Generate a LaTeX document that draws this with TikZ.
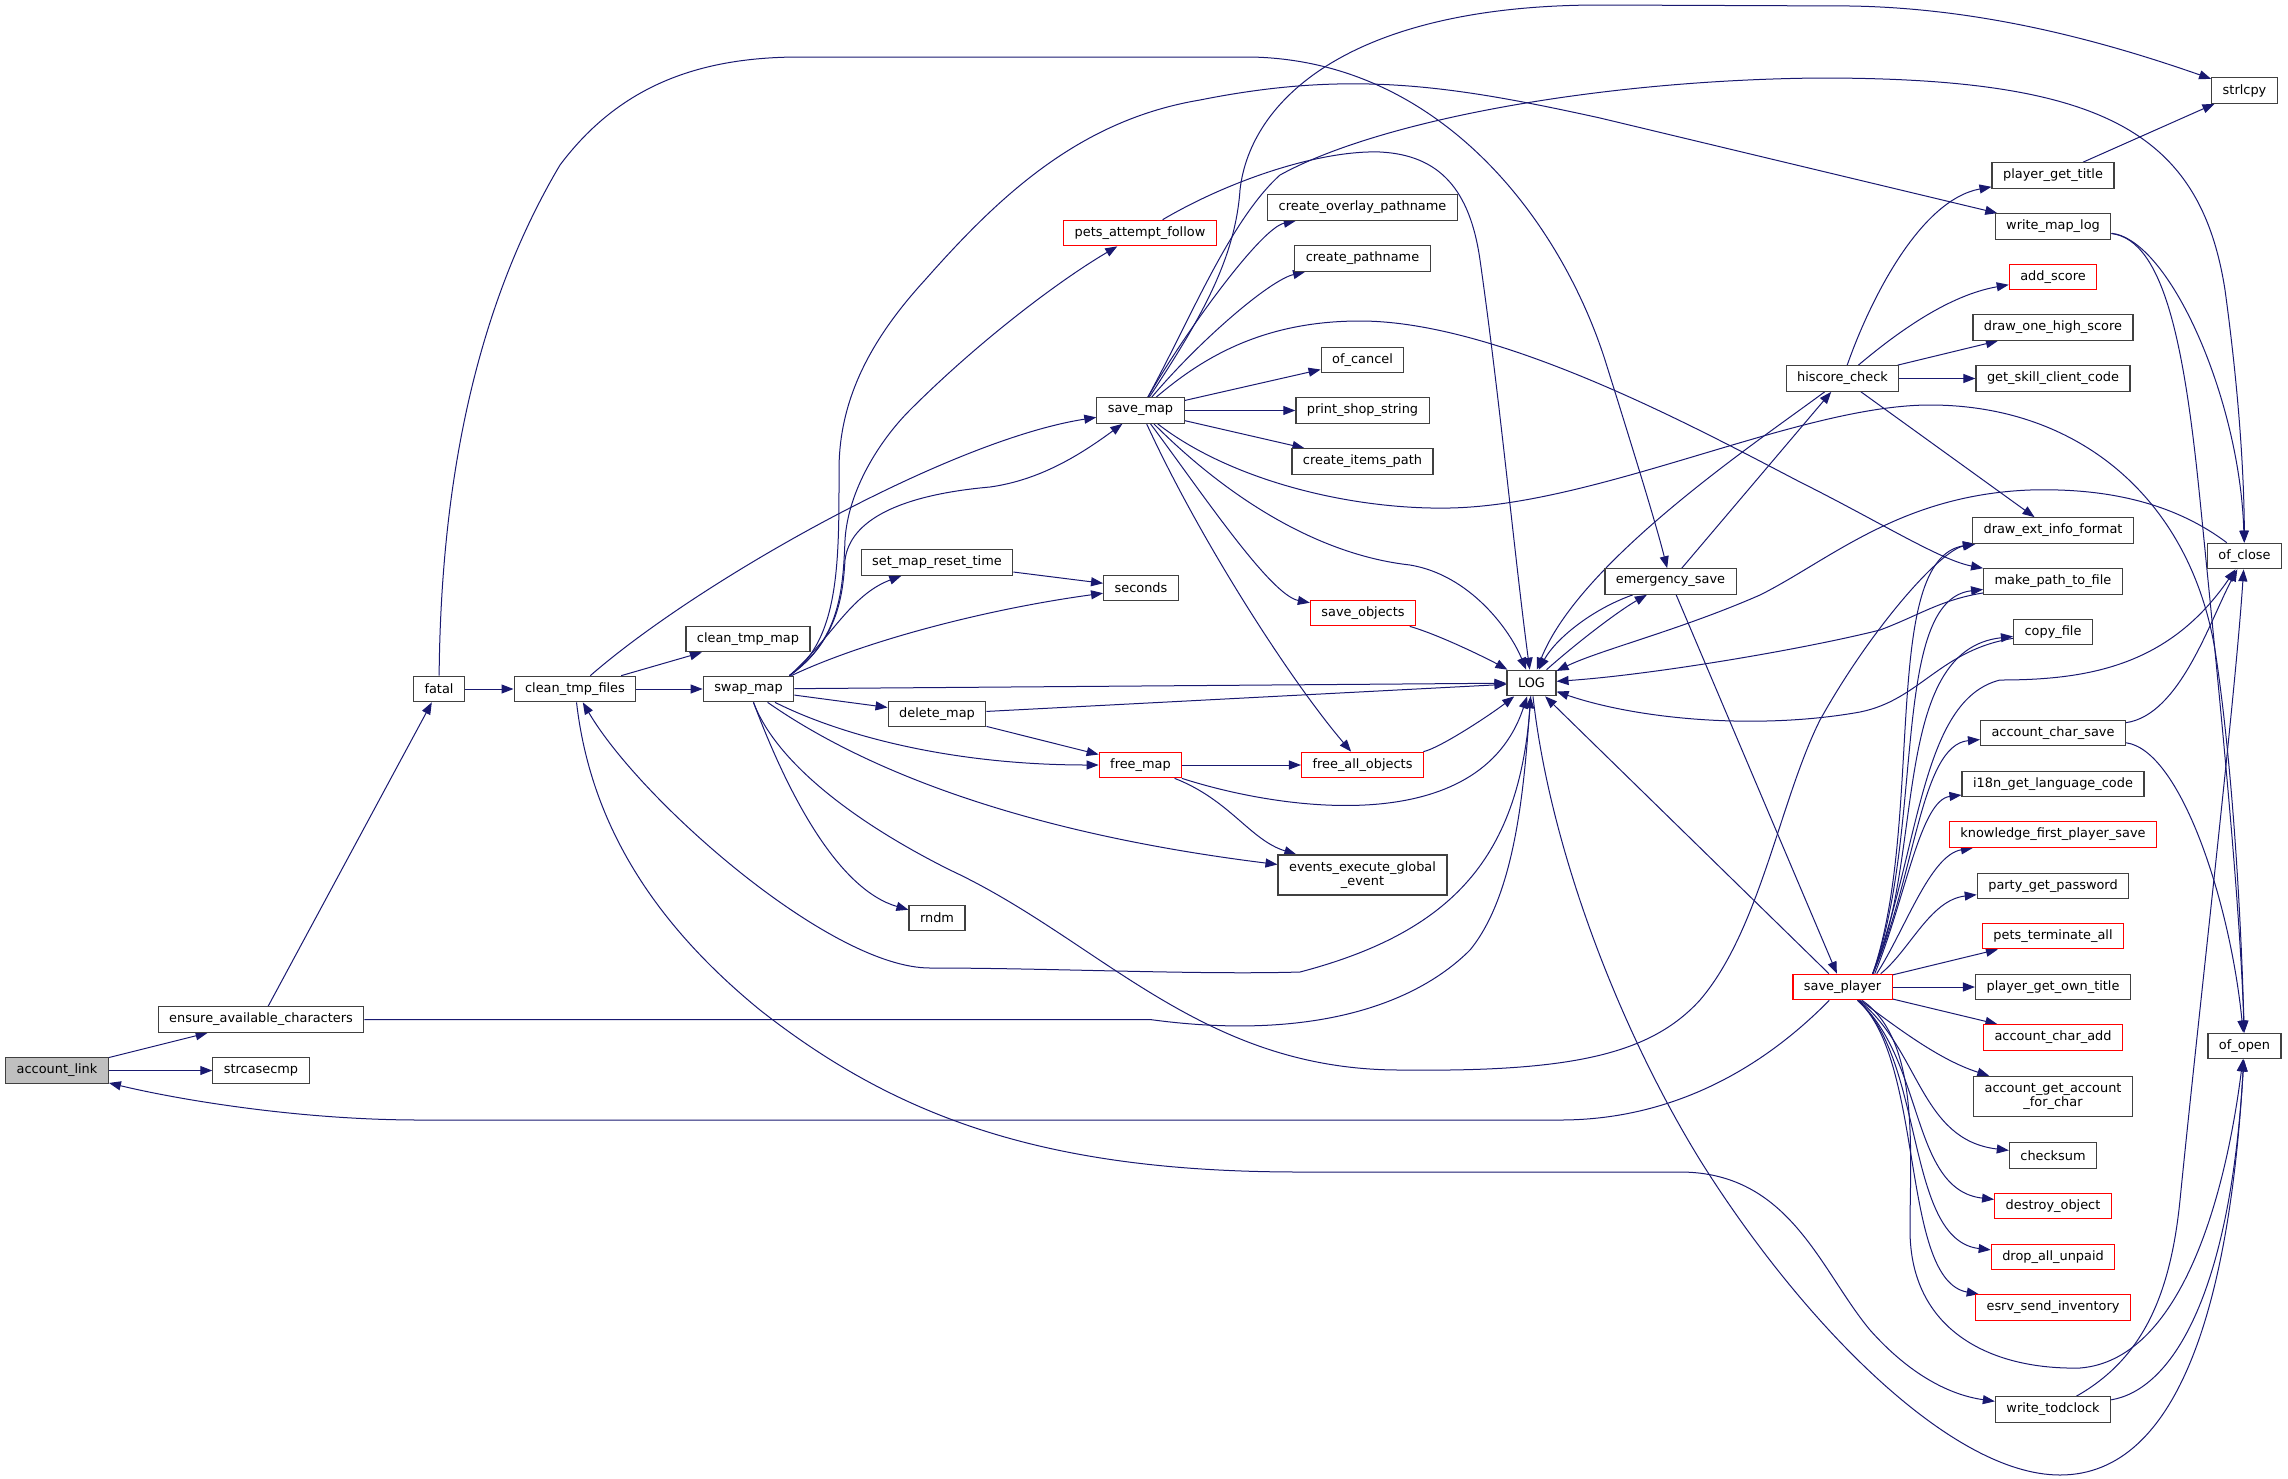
\documentclass[tikz,border=0pt]{standalone}
\usepackage{fontspec}
\setmainfont{DejaVu Sans}
\usetikzlibrary{arrows.meta}
\definecolor{edgeblue}{HTML}{191970}
\definecolor{rootgray}{HTML}{BFBFBF}
\newcommand{\fnfont}{\fontsize{12.9}{14.2}\selectfont}
\pgfdeclarelayer{background}
\pgfsetlayers{background,main}

\begin{document}
\begin{tikzpicture}[x=1pt, y=-1pt,
    fnbox/.style={draw=black!75, line width=1.2pt, fill=white, inner xsep=11pt, inner ysep=0pt, minimum height=25.5pt, font=\fnfont},
    twoline/.style={fnbox, align=center, minimum height=40pt},
    trunc/.style={fnbox, draw=red},
    root/.style={fnbox, fill=rootgray},
    call/.style={draw=edgeblue, line width=1pt, -{Triangle[length=12pt, width=9pt]}}]
\useasboundingbox (0,0) rectangle (2288,1478);

% functions
\node[root] at (57, 1070.5) (al) {account\_link};
\node[fnbox] at (261, 1019.5) (eac) {ensure\_available\_characters};
\node[fnbox] at (261, 1070.5) (scmp) {strcasecmp};
\node[fnbox] at (439, 689) (fatal) {fatal};
\node[fnbox] at (575, 689) (ctf) {clean\_tmp\_files};
\node[fnbox] at (748, 639) (ctm) {clean\_tmp\_map};
\node[fnbox] at (748.5, 689) (swap) {swap\_map};
\node[trunc] at (1140, 233) (paf) {pets\_attempt\_follow};
\node[fnbox] at (1140.5, 410.5) (savemap) {save\_map};
\node[fnbox] at (937, 562.5) (smrt) {set\_map\_reset\_time};
\node[fnbox] at (1141, 588) (sec) {seconds};
\node[fnbox] at (937, 714) (delmap) {delete\_map};
\node[fnbox] at (937, 918) (rndm) {rndm};
\node[trunc] at (1140.5, 765) (freemap) {free\_map};
\node[fnbox] at (1362.5, 207.5) (cop) {create\_overlay\_pathname};
\node[fnbox] at (1362.5, 258.5) (cp) {create\_pathname};
\node[fnbox] at (1362.5, 360) (ofc) {of\_cancel};
\node[fnbox] at (1362.5, 410.5) (pss) {print\_shop\_string};
\node[fnbox] at (1362.5, 461.5) (cip) {create\_items\_path};
\node[trunc] at (1363, 613) (saveobj) {save\_objects};
\node[trunc] at (1362.5, 765) (fao) {free\_all\_objects};
\node[twoline] at (1362.5, 875) (eeg) {events\_execute\_global\\\_event};
\node[fnbox] at (1531.5, 683) (log) {LOG};
\node[fnbox] at (1670.5, 581.5) (es) {emergency\_save};
\node[fnbox] at (1842.5, 378.5) (hs) {hiscore\_check};
\node[trunc] at (1842.5, 987) (sp) {save\_player};
\node[fnbox] at (2053, 175.5) (pgt) {player\_get\_title};
\node[fnbox] at (2053, 226.5) (wml) {write\_map\_log};
\node[trunc] at (2053, 277) (as) {add\_score};
\node[fnbox] at (2053, 327.5) (dohs) {draw\_one\_high\_score};
\node[fnbox] at (2053, 378.5) (gscc) {get\_skill\_client\_code};
\node[fnbox] at (2053, 530.5) (deif) {draw\_ext\_info\_format};
\node[fnbox] at (2053, 581.5) (mptf) {make\_path\_to\_file};
\node[fnbox] at (2053, 632) (cf) {copy\_file};
\node[fnbox] at (2053, 733) (acs) {account\_char\_save};
\node[fnbox] at (2053, 784) (i18n) {i18n\_get\_language\_code};
\node[trunc] at (2053, 834.5) (kfps) {knowledge\_first\_player\_save};
\node[fnbox] at (2053, 886) (pgp) {party\_get\_password};
\node[trunc] at (2053, 936) (pta) {pets\_terminate\_all};
\node[fnbox] at (2053, 987) (pgot) {player\_get\_own\_title};
\node[trunc] at (2053, 1037.5) (aca) {account\_char\_add};
\node[twoline] at (2053, 1096.5) (agafc) {account\_get\_account\\\_for\_char};
\node[fnbox] at (2053, 1155.5) (cks) {checksum};
\node[trunc] at (2053, 1206) (dobj) {destroy\_object};
\node[trunc] at (2053, 1257) (dau) {drop\_all\_unpaid};
\node[trunc] at (2053, 1307.5) (essi) {esrv\_send\_inventory};
\node[fnbox] at (2053, 1409.5) (wtc) {write\_todclock};
\node[fnbox] at (2244.5, 90.5) (strlcpy) {strlcpy};
\node[fnbox] at (2244.5, 556) (ofclose) {of\_close};
\node[fnbox] at (2244.5, 1046) (ofopen) {of\_open};

\begin{pgfonlayer}{background}
% account_link, ensure_available_characters, fatal
\draw[call] (al) -- (eac);
\draw[call] (al) -- (scmp);
\draw[call] (eac) -- (fatal);
\draw[call] (eac) -- (1150,1019.5) .. controls (1300,1040) and (1410,1010) .. (1470,950) .. controls (1515,895) and (1524,790) .. (log);
\draw[call] (fatal) -- (ctf);
\draw[call] (fatal) .. controls (441,470) and (480,300) .. (560,165) .. controls (620,85) and (700,57) .. (800,57) -- (1250,57) .. controls (1440,60) and (1560,220) .. (1605,360) .. controls (1630,440) and (1655,520) .. (es);

% clean_tmp_files
\draw[call] (ctf) -- (ctm);
\draw[call] (ctf) -- (swap);
\draw[call] (ctf) .. controls (700,580) and (950,440) .. (savemap);
\draw[call] (ctf) .. controls (590,820) and (650,920) .. (760,1010) .. controls (900,1120) and (1050,1172) .. (1300,1172) -- (1680,1172) .. controls (1790,1172) and (1820,1270) .. (1870,1330) .. controls (1910,1375) and (1950,1395) .. (wtc);

% swap_map
\draw[call] ([xshift=-5pt]swap.north east) .. controls (840,640) and (843,590) .. (845,540) .. controls (848,490) and (880,440) .. (910,410) .. controls (980,340) and (1060,280) .. (paf);
\draw[call] ([xshift=-5pt]swap.north east) .. controls (840,640) and (843,590) .. (845,560) .. controls (850,520) and (900,495) .. (990,487) .. controls (1040,480) and (1080,455) .. (savemap);
\draw[call] ([xshift=-5pt]swap.north east) .. controls (840,640) and (839,560) .. (839,470) .. controls (839,400) and (870,340) .. (925,280) .. controls (1000,195) and (1080,120) .. (1200,100) .. controls (1350,70) and (1450,85) .. (1600,118) -- (wml);
\draw[call] ([xshift=-5pt]swap.north east) .. controls (830,640) and (850,595) .. (smrt);
\draw[call] ([xshift=-3pt]swap.north east) .. controls (860,643) and (980,610) .. (sec);
\draw[call] (swap) -- (log);
\draw[call] (swap) -- (delmap);
\draw[call] (swap) .. controls (840,735) and (950,765) .. (freemap);
\draw[call] (swap) .. controls (850,760) and (1000,830) .. (eeg);
\draw[call] (swap) .. controls (790,800) and (840,890) .. (rndm);
\draw[call] (swap) .. controls (775,760) and (850,820) .. (950,870) .. controls (1100,940) and (1200,1070) .. (1400,1070) .. controls (1570,1072) and (1650,1055) .. (1700,1000) .. controls (1760,930) and (1780,800) .. (1820,720) .. controls (1870,630) and (1940,550) .. (deif);
\draw[call] (delmap) -- (log);
\draw[call] (delmap) -- (freemap);
\draw[call] (smrt) -- (sec);

% save_map
\draw[call] (savemap) .. controls (1200,320) and (1235,260) .. (1240,190) .. controls (1250,100) and (1350,5) .. (1600,5) -- (1850,6) .. controls (1980,8) and (2100,40) .. (strlcpy);
\draw[call] (savemap) .. controls (1190,320) and (1230,220) .. (1280,175) .. controls (1380,120) and (1600,80) .. (1820,78) .. controls (2100,78) and (2200,130) .. (2225,290) .. controls (2240,400) and (2244,480) .. (ofclose);
\draw[call] (savemap) .. controls (1180,340) and (1260,228) .. (cop);
\draw[call] (savemap) .. controls (1200,340) and (1270,280) .. (cp);
\draw[call] (savemap) -- (ofc);
\draw[call] (savemap) -- (pss);
\draw[call] (savemap) -- (cip);
\draw[call] (savemap) .. controls (1230,500) and (1320,555) .. (1410,565) .. controls (1470,575) and (1510,630) .. (log);
\draw[call] (savemap) .. controls (1200,490) and (1270,595) .. (saveobj);
\draw[call] (savemap) .. controls (1200,540) and (1290,680) .. (fao);
\draw[call] (savemap) .. controls (1200,360) and (1260,321) .. (1360,321) .. controls (1500,321) and (1700,430) .. (1800,482) .. controls (1880,522) and (1940,560) .. (mptf);
\draw[call] (savemap) .. controls (1230,480) and (1350,510) .. (1450,508) .. controls (1600,505) and (1800,405) .. (1930,405) .. controls (2080,405) and (2190,500) .. (2215,650) .. controls (2235,780) and (2242,950) .. (ofopen);

% pets_attempt_follow, save_objects, free_map, free_all_objects
\draw[call] (paf) .. controls (1230,180) and (1320,150) .. (1380,152) .. controls (1440,155) and (1470,190) .. (1480,260) .. controls (1500,400) and (1515,560) .. (log);
\draw[call] (saveobj) .. controls (1440,635) and (1490,660) .. (log);
\draw[call] (fao) .. controls (1440,748) and (1490,715) .. (log);
\draw[call] (freemap) -- (fao);
\draw[call] (freemap) .. controls (1230,800) and (1250,840) .. (eeg);
\draw[call] (freemap) .. controls (1280,810) and (1480,840) .. (log);

% LOG
\draw[call] (log) .. controls (1522,850) and (1460,930) .. (1300,972) .. controls (1200,975) and (1050,968) .. (930,968) .. controls (830,968) and (640,800) .. (ctf);
\draw[call] (log) .. controls (1580,640) and (1620,610) .. (es);
\draw[call] (log) .. controls (1550,850) and (1620,1030) .. (1700,1160) .. controls (1800,1320) and (1950,1475) .. (2060,1475) .. controls (2180,1475) and (2230,1300) .. (ofopen);

% emergency_save, hiscore_check
\draw[call] (es) -- (hs);
\draw[call] (es) .. controls (1590,610) and (1555,640) .. (log);
\draw[call] (es) -- (sp);
\draw[call] (hs) .. controls (1870,300) and (1920,200) .. (pgt);
\draw[call] (hs) .. controls (1900,330) and (1950,295) .. (as);
\draw[call] (hs) -- (dohs);
\draw[call] (hs) -- (gscc);
\draw[call] (hs) -- (deif);
\draw[call] (hs) .. controls (1760,440) and (1580,560) .. (log);

% save_player
\draw[call] ([xshift=-20pt]sp.north east) .. controls (1925,820) and (1880,560) .. (deif);
\draw[call] ([xshift=-20pt]sp.north east) .. controls (1925,830) and (1890,600) .. (mptf);
\draw[call] ([xshift=-20pt]sp.north east) .. controls (1925,860) and (1890,650) .. (cf);
\draw[call] ([xshift=-20pt]sp.north east) .. controls (1915,880) and (1920,745) .. (acs);
\draw[call] ([xshift=-18pt]sp.north east) .. controls (1905,900) and (1920,800) .. (i18n);
\draw[call] ([xshift=-16pt]sp.north east) .. controls (1905,930) and (1930,855) .. (kfps);
\draw[call] ([xshift=-12pt]sp.north east) .. controls (1910,950) and (1930,900) .. (pgp);
\draw[call] (sp) -- (pta);
\draw[call] (sp) -- (pgot);
\draw[call] (sp) -- (aca);
\draw[call] (sp) .. controls (1900,1030) and (1940,1060) .. (agafc);
\draw[call] (sp) .. controls (1920,1050) and (1920,1140) .. (cks);
\draw[call] (sp) .. controls (1925,1060) and (1910,1190) .. (dobj);
\draw[call] (sp) .. controls (1925,1060) and (1905,1240) .. (dau);
\draw[call] (sp) .. controls (1925,1060) and (1900,1280) .. (essi);
\draw[call] ([xshift=-20pt]sp.north east) .. controls (1920,850) and (1920,700) .. (2000,680) .. controls (2090,680) and (2170,665) .. (ofclose);
\draw[call] (sp) .. controls (1920,1040) and (1910,1150) .. (1910,1230) .. controls (1910,1330) and (1990,1370) .. (2080,1368) .. controls (2180,1360) and (2225,1200) .. (ofopen);
\draw[call] (sp) -- (log);
\draw[call] (sp) .. controls (1790,1040) and (1700,1120) .. (1560,1120) -- (420,1120) .. controls (300,1120) and (180,1100) .. (al);

% right column
\draw[call] (acs) .. controls (2180,715) and (2210,620) .. (ofclose);
\draw[call] (acs) .. controls (2180,750) and (2230,900) .. (ofopen);
\draw[call] (cf) .. controls (1940,650) and (1920,700) .. (1860,712) .. controls (1760,730) and (1640,720) .. (log);
\draw[call] (mptf) .. controls (1940,600) and (1920,615) .. (1880,630) .. controls (1800,650) and (1650,675) .. (log);
\draw[call] (ofclose) .. controls (2170,500) and (2100,488) .. (2030,490) .. controls (1900,495) and (1830,560) .. (1760,595) .. controls (1680,630) and (1600,650) .. (log);
\draw[call] (wml) .. controls (2170,240) and (2240,400) .. (ofclose);
\draw[call] (wml) .. controls (2165,240) and (2185,350) .. (2200,500) .. controls (2220,700) and (2240,900) .. (ofopen);
\draw[call] (pgt) -- (strlcpy);
\draw[call] (wtc) .. controls (2140,1360) and (2170,1300) .. (2180,1200) .. controls (2200,1000) and (2235,700) .. (ofclose);
\draw[call] (wtc) .. controls (2170,1390) and (2230,1300) .. (ofopen);
\end{pgfonlayer}
\end{tikzpicture}
\end{document}
